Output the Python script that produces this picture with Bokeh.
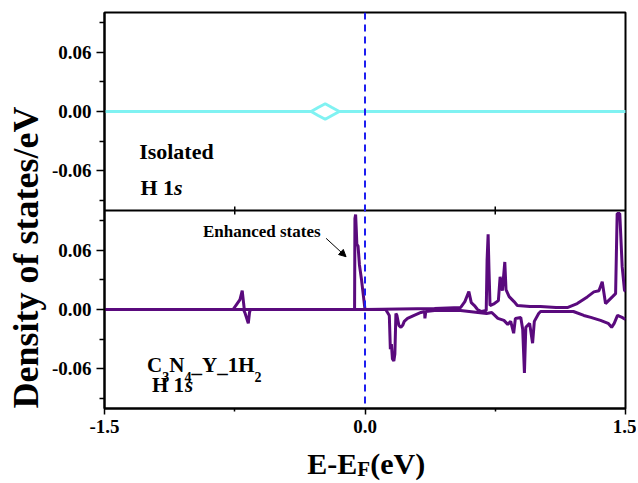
import math
from bokeh.plotting import figure
from bokeh.layouts import column
from bokeh.models import (Range1d, FixedTicker, CustomJSTickFormatter, NumeralTickFormatter,
                          Span, Label, Arrow, NormalHead, Title)
from bokeh.core.properties import value
from bokeh.embed import file_html
from bokeh.resources import INLINE

# ---------------- data ----------------
# Isolated H 1s (top panel)
iso_x = [-1.5, -0.31, -0.27, -0.229, -0.19, -0.148, 1.5]
iso_up = [0.0, 0.0, 0.004, 0.0078, 0.004, 0.0, 0.0]
iso_dn = [0.0, 0.0, -0.004, -0.0078, -0.004, 0.0, 0.0]

# C3N4_Y_1H2, H 1s (bottom panel) spin up
up_x = [-1.5, -0.76, -0.74, -0.72, -0.707, -0.700, -0.695, -0.06, -0.058, -0.054, -0.050,
        -0.047, -0.040, -0.032, -0.020, -0.008, 0.0, 0.20, 0.40, 0.55, 0.575, 0.598, 0.612,
        0.630, 0.648, 0.670, 0.698, 0.703, 0.709, 0.714, 0.720, 0.745, 0.768, 0.778, 0.791,
        0.805, 0.812, 0.830, 0.858, 0.877, 0.95, 1.01, 1.10, 1.165, 1.222, 1.28, 1.318,
        1.347, 1.366, 1.385, 1.424, 1.443, 1.452, 1.467, 1.481, 1.494, 1.5]
up_y = [0.0, 0.0, 0.005, 0.010, 0.019, 0.008, 0.0, 0.0, 0.092, 0.096, 0.080,
        0.066, 0.064, 0.045, 0.030, 0.012, 0.0, 0.0005, 0.001, 0.002, 0.008, 0.018, 0.007,
        0.004, 0.0, -0.002, -0.001, 0.050, 0.076, 0.040, 0.004, 0.006, 0.009, 0.033, 0.019,
        0.048, 0.020, 0.013, 0.008, 0.004, 0.003, 0.003, 0.002, 0.002, 0.006, 0.0127, 0.0178,
        0.019, 0.028, 0.006, 0.0127, 0.016, 0.097, 0.097, 0.043, 0.0195, 0.018]

# spin down
dn_x = [-1.5, -0.70, -0.69, -0.672, -0.665, -0.66, 0.12, 0.126, 0.140, 0.146, 0.152, 0.158,
        0.166, 0.172, 0.178, 0.184, 0.195, 0.207, 0.217, 0.226, 0.245, 0.283, 0.322, 0.343,
        0.345, 0.350, 0.40, 0.55, 0.60, 0.65, 0.70, 0.73, 0.765, 0.80, 0.822, 0.839, 0.856,
        0.866, 0.897, 0.908, 0.918, 0.926, 0.948, 0.965, 0.975, 1.00, 1.011, 1.10, 1.20,
        1.26, 1.30, 1.356, 1.40, 1.42, 1.435, 1.454, 1.48, 1.5]
dn_y = [0.0, 0.0, -0.004, -0.014, -0.003, 0.0, 0.0, -0.002, -0.006, -0.040, -0.035, -0.050,
        -0.052, -0.045, -0.004, -0.006, -0.016, -0.018, -0.016, -0.012, -0.009, -0.006, -0.003, -0.002,
        -0.009, -0.002, -0.001, -0.001, -0.002, -0.003, -0.004, -0.003, -0.009, -0.011, -0.015, -0.012, -0.024,
        -0.009, -0.008, -0.020, -0.064, -0.018, -0.014, -0.034, -0.012, -0.004, -0.002, -0.002, -0.002,
        -0.006, -0.008, -0.011, -0.014, -0.018, -0.014, -0.006, -0.008, -0.010]

x_ticks = [-1.5, 0.0, 1.5]
x_minor = [-0.75, 0.75]
y_ticks = [-0.06, 0.0, 0.06]
y_minor = [-0.09, -0.03, 0.03, 0.09]
panel_span = 0.2  # each panel covers -0.1 .. 0.1

PURPLE = "#5a0a7d"
CYAN = "#80f2f2"
FONT = "Liberation Serif"
W = 636
FL, FR = 103, 625  # frame left/right in pixels

xr = Range1d(-1.5, 1.5)
p = figure(width=W, height=444, x_range=xr, y_range=Range1d(-0.1, 0.3),
           output_backend="svg", toolbar_location=None,
           min_border_left=FL, min_border_right=W - FR, min_border_top=12, min_border_bottom=36)
p.extra_y_ranges = {"top": Range1d(-0.3, 0.1)}
p.grid.visible = False
p.background_fill_color = "white"
p.border_fill_color = "white"
p.outline_line_color = "black"
p.outline_line_width = 2
p.outline_line_alpha = 1

# lines
p.line(iso_x, iso_up, y_range_name="top", line_color=CYAN, line_width=3)
p.line(iso_x, iso_dn, y_range_name="top", line_color=CYAN, line_width=3)
p.line(up_x, up_y, line_color=PURPLE, line_width=3)
p.line(dn_x, dn_y, line_color=PURPLE, line_width=3)

# divider between panels and its minor ticks
p.add_layout(Span(location=0.1, dimension="width", line_color="black", line_width=2))
p.segment(x0=x_minor, y0=[0.1 - 0.004] * len(x_minor), x1=x_minor, y1=[0.1 + 0.004] * len(x_minor),
          line_color="black", line_width=1.5)

# Fermi level
p.add_layout(Span(location=0.0, dimension="height", line_color="#1e1ef0", line_width=2,
                  line_dash="7 5"))

# axes
xa = p.xaxis[0]
xa.ticker = FixedTicker(ticks=x_ticks, minor_ticks=x_minor)
xa.formatter = NumeralTickFormatter(format="0.0")
ya = p.yaxis[0]
all_ticks = [round(v, 4) for v in y_ticks] + [round(v + panel_span, 4) for v in y_ticks]
all_minor = [round(v, 4) for v in y_minor] + [round(v + panel_span, 4) for v in y_minor]
ya.ticker = FixedTicker(ticks=all_ticks, minor_ticks=all_minor)
ya.formatter = CustomJSTickFormatter(args=dict(off=panel_span), code="""
    let v = tick > 0.1 ? tick - off : tick;
    if (Math.abs(v) < 1e-9) v = 0;
    return v.toFixed(2);
""")
for ax in (xa, ya):
    ax.axis_line_width = 2
    ax.major_tick_line_width = 1.5
    ax.minor_tick_line_width = 1.5
    ax.major_tick_in = 0
    ax.minor_tick_in = 0
    ax.major_label_text_font = FONT
    ax.major_label_text_font_style = "bold"
    ax.major_label_text_font_size = "19px"
    ax.major_label_text_color = "black"
xa.major_tick_out = 6
xa.minor_tick_out = 3
xa.major_label_standoff = 5
ya.major_tick_out = 8
ya.minor_tick_out = 5
ya.major_label_standoff = 5

# y axis title as a left-side title
p.add_layout(Title(text="Density of states/eV", align="left", offset=0,
                   text_font=FONT, text_font_style="bold", text_font_size="36px",
                   text_color="black", standoff=6), "left")

def lab(x, y, text, size, style="bold", **kw):
    p.add_layout(Label(x=x, y=y, text=text, text_font=FONT, text_font_style=style,
                       text_font_size=size, text_color="black", **kw))

# panel annotations
lab(-1.3006, 0.1472, "Isolated", "22px")
lab(-1.293, 0.1111, "H 1", "22px")
lab(-1.293, 0.1111, "s", "22px", style="bold italic", x_offset=33.6)

lab(-1.2546, -0.0684, "C", "21px")
lab(-1.2546, -0.0734, "3", "14px", x_offset=15.2)
lab(-1.2546, -0.0684, "N", "21px", x_offset=22.2)
lab(-1.2546, -0.0734, "4", "14px", x_offset=37.4)
lab(-1.2546, -0.0684, "_Y_1H", "21px", x_offset=44.4)
lab(-1.2546, -0.0734, "2", "14px", x_offset=107.4)
lab(-1.2264, -0.0886, "H 1", "21px")
lab(-1.2264, -0.0886, "s", "21px", style="bold italic", x_offset=33)

lab(-0.9328, 0.0687, "Enhanced states", "17px")
p.add_layout(Arrow(end=NormalHead(size=7, fill_color="black", line_color="black", line_width=1),
                   x_start=-0.224, y_start=0.0719, x_end=-0.109, y_end=0.0533,
                   line_color="black", line_width=1))

# x axis title strip (same x range, y in pixels)
SH = 38
s = figure(width=W, height=SH, x_range=xr, y_range=Range1d(0, SH),
           output_backend="svg", toolbar_location=None,
           min_border_left=FL, min_border_right=W - FR, min_border_top=0, min_border_bottom=0)
s.axis.visible = False
s.grid.visible = False
s.outline_line_color = None
s.border_fill_color = "white"
XL = -0.333
s.text(x=[XL], y=[19], text=["E-E"], text_font=value(FONT), text_font_style="bold",
       text_font_size="30px", text_baseline="alphabetic", text_color="black")
s.text(x=[XL], y=[14], text=["F"], x_offset=50, text_font=value(FONT), text_font_style="bold",
       text_font_size="21px", text_baseline="alphabetic", text_color="black")
s.text(x=[XL], y=[19], text=["(eV)"], x_offset=63, text_font=value(FONT), text_font_style="bold",
       text_font_size="30px", text_baseline="alphabetic", text_color="black")

layout = column(p, s, spacing=0)
open("out.html", "w").write(file_html(layout, INLINE))
